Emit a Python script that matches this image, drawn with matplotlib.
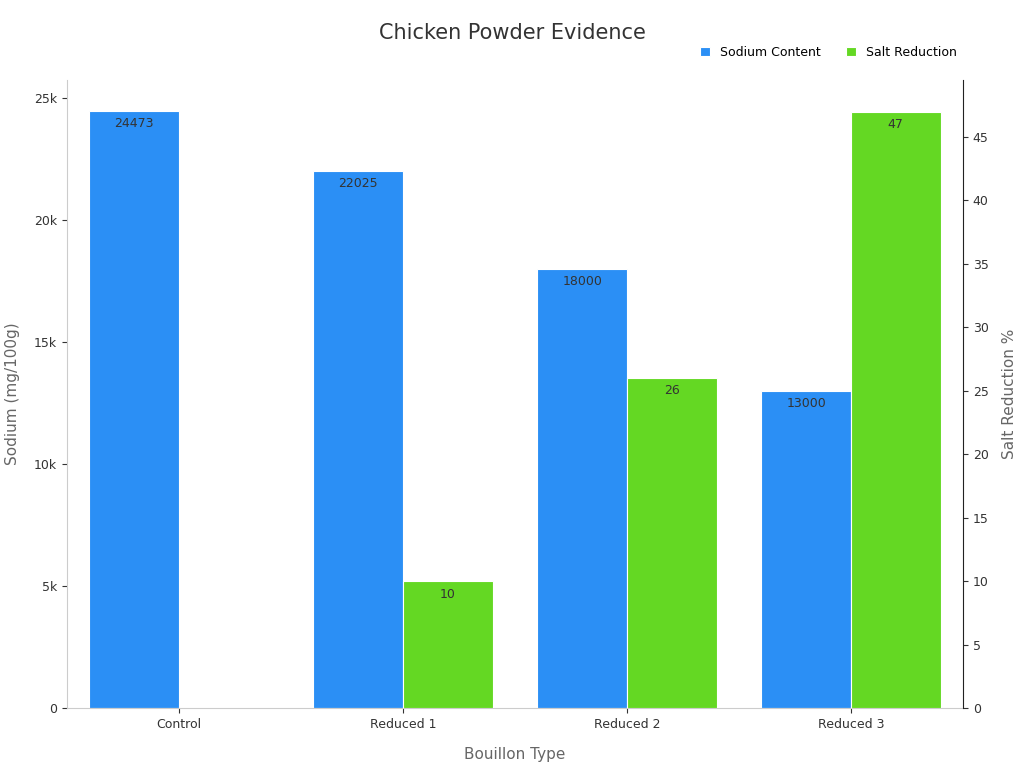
import numpy as np
import matplotlib.pyplot as plt
from matplotlib.ticker import FuncFormatter

categories = ['Control', 'Reduced 1', 'Reduced 2', 'Reduced 3']
sodium = [24473, 22025, 18000, 13000]
reduction = [0, 10, 26, 47]

blue = '#2b8ff5'
green = '#64d823'
text_c = '#333333'

fig = plt.figure(figsize=(10.24, 7.68), dpi=100)
ax = fig.add_axes([0.0654, 0.078, 0.875, 0.818])
ax2 = ax.twinx()

x = np.arange(len(categories))
w = 0.4
b1 = ax.bar(x - w / 2, sodium, w, color=blue, edgecolor='white', linewidth=0.8)
b2 = ax2.bar(x + w / 2, reduction, w, color=green, edgecolor='white', linewidth=0.8)

for rect, v in zip(b1, sodium):
    ax.text(rect.get_x() + rect.get_width() / 2, v - 250, str(v),
            ha='center', va='top', fontsize=9, color=text_c)
for rect, v in zip(b2, reduction):
    if v > 0:
        ax2.text(rect.get_x() + rect.get_width() / 2, v - 0.5, str(v),
                 ha='center', va='top', fontsize=9, color=text_c)

ax.set_xlim(-0.5, 3.5)
ax.set_ylim(0, 25740)
ax2.set_ylim(0, 49.5)
ax.set_xticks(x)
ax.set_xticklabels(categories)
ax.set_yticks([0, 5000, 10000, 15000, 20000, 25000])
ax.yaxis.set_major_formatter(FuncFormatter(lambda v, p: '0' if v == 0 else f'{int(v/1000)}k'))
ax2.set_yticks(range(0, 50, 5))

for a in (ax, ax2):
    a.spines['top'].set_visible(False)
    a.tick_params(labelsize=9, colors=text_c)
ax.spines['right'].set_visible(False)
ax.spines['left'].set_color('#cccccc')
ax.spines['bottom'].set_color('#cccccc')
ax2.spines['left'].set_visible(False)
ax2.spines['bottom'].set_visible(False)
ax2.spines['right'].set_color('#222222')

ax.set_xlabel('Bouillon Type', fontsize=11, color='#666666', labelpad=12)
ax.set_ylabel('Sodium (mg/100g)', fontsize=11, color='#666666', labelpad=10)
ax2.set_ylabel('Salt Reduction %', fontsize=11, color='#666666', labelpad=10)

fig.suptitle('Chicken Powder Evidence', fontsize=15, color=text_c, y=0.97)
fig.legend([b1, b2], ['Sodium Content', 'Salt Reduction'], loc='upper right',
           bbox_to_anchor=(0.945, 0.955), ncol=2, frameon=False, fontsize=9,
           handlelength=0.8, handleheight=0.8, columnspacing=2)

fig.savefig('out.png', dpi=100)
